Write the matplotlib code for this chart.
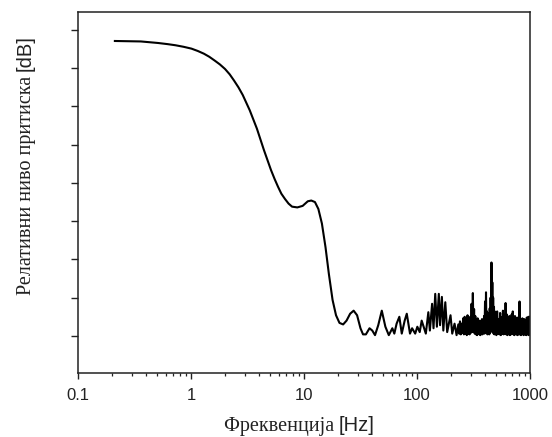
import matplotlib
matplotlib.use("Agg")
import matplotlib.pyplot as plt
from matplotlib.ticker import FixedLocator, LogLocator, NullFormatter, FixedFormatter

# ---- data: smooth low-frequency part (Hz, relative level) ----
freq_smooth = [0.212, 0.30, 0.36, 0.43, 0.51, 0.62, 0.73, 0.86, 1.01, 1.15, 1.30, 1.45,
               1.62, 1.80, 2.00, 2.20, 2.40, 2.63, 2.87, 3.31, 3.83, 4.42, 5.10, 5.50,
               5.89, 6.30, 6.79, 7.30, 7.84, 8.73, 9.73, 10.8, 11.6, 12.5, 13.4, 14.4,
               15.5, 16.6, 17.9, 19.2, 20.6, 22.2]
level_smooth = [38.56, 38.52, 38.5, 38.4, 38.3, 38.15, 38.0, 37.8, 37.56, 37.25, 36.9, 36.5,
                36.0, 35.5, 34.9, 34.2, 33.4, 32.5, 31.5, 29.5, 27.1, 24.3, 21.7, 20.5,
                19.5, 18.6, 17.9, 17.3, 16.9, 16.8, 17.0, 17.6, 17.7, 17.5, 16.6, 14.7,
                11.6, 8.1, 4.7, 2.7, 1.7, 1.5]

# ---- data: ripple part ----
freq_ripple = [23.8, 25.6, 27.5, 29.5, 31.6, 33.3, 35.3, 38.0, 40.2, 42.5, 45.4, 48.8,
               52.5, 56.3, 60.5, 63.0, 66.0, 69.8, 73.3, 77.8, 81.2, 86.7, 90.5, 96.4,
               100.7, 105.7, 110, 119.7, 126, 130, 136, 140, 145, 150, 156, 160, 166,
               171, 178, 185, 198, 205, 215, 224]
level_ripple = [2.0, 2.9, 3.3, 2.7, 1.0, 0.2, 0.2, 1.0, 0.7, 0.1, 1.4, 3.3,
                1.2, 0.1, 1.0, 0.3, 1.6, 2.5, 0.3, 2.0, 2.9, 0.3, 1.0, 0.3,
                1.2, 0.5, 2.0, 0.3, 3.1, 0.7, 4.2, 1.0, 5.5, 1.2, 5.5, 1.4, 5.1,
                0.7, 4.4, 0.5, 2.7, 0.3, 1.6, 0.1]

# ---- data: dense noisy high-frequency part ----
freq_noise = [232, 236, 240, 244, 248, 252, 256, 260, 264, 268, 272, 276, 280, 284, 288,
              292, 296, 300, 304, 308, 312, 316, 320, 324, 328, 332, 336, 340, 344, 348,
              352, 356, 360, 364, 368, 372, 376, 380, 384, 388, 392, 396, 400, 404, 408,
              412, 416, 420, 424, 428, 432, 436, 440, 444, 448, 452, 456, 460, 464, 468,
              472, 476, 480, 484, 488, 492, 496,
              504, 512, 520, 528, 536, 544, 552, 560, 568, 576, 584, 592, 600, 608, 616,
              624, 632, 640, 648, 656, 664, 672, 680, 688, 696, 704, 712, 720, 728, 736,
              744, 752, 760, 768, 776, 784, 792, 800, 808, 816, 824, 832, 840, 848, 856,
              864, 872, 880, 888, 896, 904, 912, 920, 928, 936, 944, 952, 960, 968, 976,
              984, 992, 1000]
level_noise = [1.5, 0.3, 1.9, 0.2, 1.6, 0.4, 2.3, 0.2, 2.5, 0.3, 2.0, 0.1, 2.7, 0.3, 2.2,
               0.2, 2.5, 0.4, 4.2, 0.5, 5.6, 0.6, 3.5, 0.3, 2.6, 0.2, 2.0, 0.1, 2.3, 0.3,
               1.7, 0.2, 2.0, 0.1, 1.6, 0.3, 2.2, 0.2, 1.8, 0.4, 2.6, 0.3, 4.5, 0.5, 5.7,
               0.4, 3.2, 0.2, 2.4, 0.3, 3.0, 0.2, 3.6, 0.4, 5.0, 0.6, 9.6, 1.0, 7.0, 0.5,
               5.0, 0.3, 3.8, 0.2, 3.2, 0.3, 2.6,
               0.1, 3.2, 0.3, 2.2, 0.2, 3.0, 0.1, 2.4, 0.3, 3.3, 0.2, 2.0, 0.3, 4.3, 0.2,
               2.8, 0.1, 2.2, 0.3, 2.6, 0.1, 2.0, 0.2, 2.8, 0.3, 3.2, 0.2, 2.4, 0.1, 2.6,
               0.3, 1.9, 0.2, 2.4, 0.1, 2.0, 0.3, 0.2, 4.5, 0.2, 2.0, 0.1, 1.6, 0.3, 2.3,
               0.2, 1.8, 0.1, 2.2, 0.3, 1.5, 0.2, 2.0, 0.1, 2.4, 0.3, 1.7, 0.2, 2.5, 0.1,
               2.0, 0.3, 2.5]

xtick_values = [0.1, 1, 10, 100, 1000]
xtick_labels = ["0.1", "1", "10", "100", "1000"]
ytick_values = [0, 5, 10, 15, 20, 25, 30, 35, 40]

freq = freq_smooth + freq_ripple + freq_noise
level = level_smooth + level_ripple + level_noise

W, H = 552, 437
fig = plt.figure(figsize=(W / 100, H / 100), dpi=100)
ax = fig.add_axes([78 / W, 1 - 373 / H, (530 - 78) / W, (373 - 12) / H])

ax.plot(freq, level, color="black", lw=1.5, solid_joinstyle="round")

ax.set_xscale("log")
ax.set_xlim(0.1, 1000)
ax.set_ylim(-4.85, 42.35)

ax.xaxis.set_major_locator(FixedLocator(xtick_values))
ax.xaxis.set_major_formatter(FixedFormatter(xtick_labels))
ax.xaxis.set_minor_locator(LogLocator(base=10, subs=range(2, 10)))
ax.xaxis.set_minor_formatter(NullFormatter())
ax.yaxis.set_major_locator(FixedLocator(ytick_values))
ax.set_yticklabels([])

ax.tick_params(axis="x", which="major", direction="out", length=4, width=1.0,
               pad=7, labelsize=12, colors="#222222")
ax.tick_params(axis="x", which="minor", direction="out", length=2.5, width=0.9, colors="#222222")
ax.tick_params(axis="y", which="major", direction="out", length=5, width=1.0, colors="#222222")
ax.tick_params(top=False, right=False)
for lab in ax.get_xticklabels():
    lab.set_fontfamily("Liberation Sans")
for s in ax.spines.values():
    s.set_linewidth(1.1)
    s.set_color("#222222")

# ---- mixed-font axis labels (serif Cyrillic + sans units) ----
fig.canvas.draw()
renderer = fig.canvas.get_renderer()
fs = 14.5

# x label
xa = fig.text(0, 0, "Фреквенција ", family="Liberation Serif", fontsize=fs,
              ha="left", va="baseline", color="#222222")
xb = fig.text(0, 0, "[Hz]", family="Liberation Sans", fontsize=fs,
              ha="left", va="baseline", color="#222222")
wa = xa.get_window_extent(renderer).width
wb = xb.get_window_extent(renderer).width
cx = 299
base_y = H - 431
x0 = cx - (wa + wb) / 2
xa.set_position((x0 / W, base_y / H))
xb.set_position(((x0 + wa) / W, base_y / H))

# y label (rotated)
ya = fig.text(0, 0, "Релативни ниво притиска ", family="Liberation Serif", fontsize=fs,
              rotation=90, rotation_mode="anchor", ha="left", va="baseline", color="#222222")
yb = fig.text(0, 0, "[dB]", family="Liberation Sans", fontsize=fs,
              rotation=90, rotation_mode="anchor", ha="left", va="baseline", color="#222222")
ha_ = ya.get_window_extent(renderer).height
hb_ = yb.get_window_extent(renderer).height
cy = H - 165
base_x = 31
y0 = cy - (ha_ + hb_) / 2
ya.set_position((base_x / W, y0 / H))
yb.set_position((base_x / W, (y0 + ha_) / H))

fig.savefig("out.png", dpi=100)
